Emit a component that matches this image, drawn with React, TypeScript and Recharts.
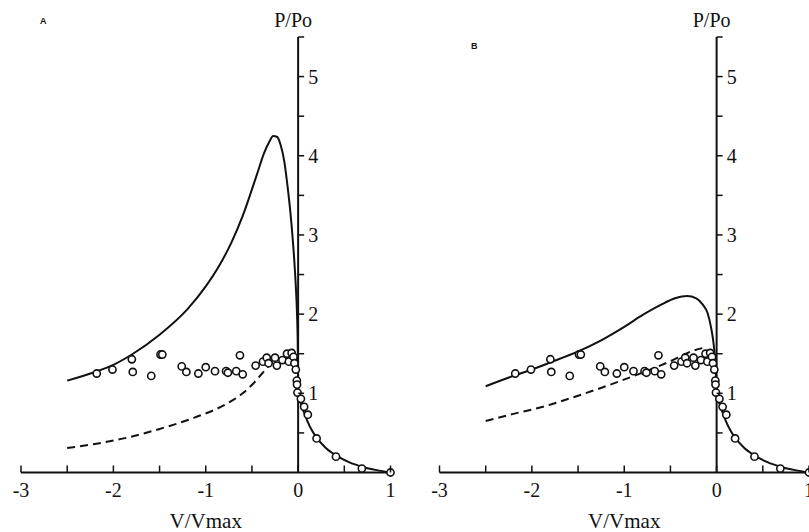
import {
  ComposedChart,
  Line,
  ReferenceDot,
  ReferenceLine,
  Scatter,
  XAxis,
  YAxis,
} from "recharts";

// measured points, same set in both panels
const obsV = [
  -2.18, -2.01, -1.8, -1.79, -1.59, -1.49, -1.47, -1.26, -1.21, -1.08, -1.0,
  -0.9, -0.78, -0.76, -0.67, -0.63, -0.6, -0.46, -0.38, -0.34, -0.32, -0.25,
  -0.23, -0.17, -0.12, -0.1, -0.07, -0.05, -0.04, -0.025, -0.014, -0.012,
  -0.007, 0.03, 0.065, 0.105, 0.2, 0.41, 0.69, 1.0,
];
const obsP = [
  1.25, 1.3, 1.43, 1.27, 1.22, 1.49, 1.49, 1.34, 1.27, 1.25, 1.33, 1.28, 1.28,
  1.26, 1.28, 1.48, 1.24, 1.35, 1.4, 1.45, 1.38, 1.45, 1.35, 1.42, 1.5, 1.4,
  1.51, 1.46, 1.38, 1.3, 1.16, 1.11, 1.01, 0.93, 0.83, 0.73, 0.43, 0.2, 0.05,
  0.0,
];

// shortening branch (V > 0), shared by both fits
const shortV = [0.03, 0.06, 0.1, 0.15, 0.2, 0.3, 0.42, 0.55, 0.7, 0.85, 1.0];
const shortP = [0.87, 0.77, 0.65, 0.53, 0.44, 0.31, 0.21, 0.13, 0.07, 0.03, 0];

// panel A, lengthening branch
const fitAV = [
  -2.5, -2.2, -2.0, -1.8, -1.5, -1.2, -1.0, -0.85, -0.72, -0.6, -0.51, -0.43,
  -0.37, -0.31, -0.27, -0.23, -0.19, -0.15, -0.115, -0.085, -0.06, -0.04,
  -0.025, -0.012, -0.004, 0,
];
const fitAP = [
  1.16, 1.27, 1.36, 1.49, 1.74, 2.06, 2.35, 2.62, 2.91, 3.24, 3.54, 3.82, 4.03,
  4.18, 4.25, 4.24, 4.14, 3.93, 3.62, 3.3, 2.97, 2.65, 2.35, 2.0, 1.6, 1.0,
];
const dashAV = [-2.5, -2.2, -1.85, -1.5, -1.13, -0.77, -0.6, -0.48, -0.39, -0.31, -0.22];
const dashAP = [0.31, 0.36, 0.44, 0.55, 0.69, 0.87, 1.0, 1.13, 1.25, 1.36, 1.45];

// panel B, lengthening branch
const fitBV = [
  -2.5, -2.2, -2.0, -1.8, -1.5, -1.25, -1.0, -0.8, -0.6, -0.45, -0.32, -0.22,
  -0.15, -0.1, -0.06, -0.03, -0.012, 0,
];
const fitBP = [
  1.09, 1.22, 1.3, 1.39, 1.53, 1.67, 1.84, 1.99, 2.12, 2.2, 2.23, 2.2, 2.12,
  2.02, 1.83, 1.6, 1.35, 1.0,
];
const dashBV = [-2.5, -2.2, -1.85, -1.5, -1.15, -0.85, -0.53, -0.25, -0.12];
const dashBP = [0.65, 0.74, 0.84, 0.97, 1.11, 1.24, 1.39, 1.54, 1.58];

const xTicks = [-3, -2.5, -2, -1.5, -1, -0.5, 0, 0.5, 1];
const xLabels = [-3, -2, -1, 0, 1];
const yTicks = [0.5, 1, 1.5, 2, 2.5, 3, 3.5, 4, 4.5, 5, 5.5];
const yLabels = [1, 2, 3, 4, 5];

const INK = "#111";
const SERIF = "'Liberation Serif', 'Times New Roman', serif";
const serifText = { fontFamily: SERIF, fontSize: 20, fill: INK };

const zip = (vs: number[], ps: number[]) => vs.map((v, i) => ({ v, p: ps[i] }));

const observed = zip(obsV, obsP);
const shortening = zip(shortV, shortP);

const X_MIN = -3;
const X_MAX = 1;
const H = 532;
const PLOT_W = 369.5;

const XTick = (props: any) => {
  const { x, y, payload } = props;
  const v = payload.value;
  return (
    <g>
      <line x1={x} y1={y} x2={x} y2={y - 7} stroke={INK} strokeWidth={1.5} />
      {xLabels.includes(v) && (
        <text x={x} y={y + 24} textAnchor="middle" style={serifText}>
          {String(v)}
        </text>
      )}
    </g>
  );
};

const makeYTick = (zeroX: number) => (props: any) => {
  const { y, payload } = props;
  const v = payload.value;
  return (
    <g>
      <line x1={zeroX} y1={y} x2={zeroX + 6} y2={y} stroke={INK} strokeWidth={1.5} />
      {yLabels.includes(v) && (
        <text x={zeroX + 10} y={y + 7} style={serifText}>
          {v}
        </text>
      )}
    </g>
  );
};

const circle = (props: any) => (
  <circle cx={props.cx} cy={props.cy} r={3.6} fill="#fff" stroke={INK} strokeWidth={1.6} />
);

type PanelProps = {
  left: number;
  width: number;
  marginLeft: number;
  letter: string;
  letterX: number;
  letterY: number;
  fit: { v: number; p: number }[];
  dashed: { v: number; p: number }[];
};

const Panel = ({ left, width, marginLeft, letter, letterX, letterY, fit, dashed }: PanelProps) => {
  const zeroX = marginLeft + (PLOT_W * (0 - X_MIN)) / (X_MAX - X_MIN);
  return (
    <div style={{ position: "absolute", left, top: 0, width, height: H, fontFamily: SERIF }}>
      <div
        style={{
          position: "absolute",
          left: letterX,
          top: letterY,
          fontFamily: "'Liberation Sans', Arial, sans-serif",
          fontWeight: 700,
          fontSize: 9,
          color: INK,
        }}
      >
        {letter}
      </div>
      <ComposedChart
        width={width}
        height={H}
        margin={{ top: 37, right: width - marginLeft - PLOT_W, bottom: 29.5, left: marginLeft }}
      >
        <XAxis
          dataKey="v"
          type="number"
          domain={[X_MIN, X_MAX]}
          ticks={xTicks}
          interval={0}
          height={30}
          tickSize={0}
          tickMargin={0}
          tickLine={false}
          axisLine={{ stroke: INK, strokeWidth: 2 }}
          tick={XTick}
          label={{
            value: "V/Vmax",
            position: "bottom",
            offset: 11,
            style: { fontFamily: SERIF, fontSize: 21, fill: INK },
          }}
        />
        <YAxis
          dataKey="p"
          type="number"
          domain={[0, 5.5]}
          ticks={yTicks}
          interval={0}
          mirror
          axisLine={false}
          tickLine={false}
          tick={makeYTick(zeroX)}
        />
        <ReferenceLine
          segment={[
            { x: 0, y: 0 },
            { x: 0, y: 5.5 },
          ]}
          stroke={INK}
          strokeWidth={2}
        />
        <ReferenceDot
          x={0}
          y={5.5}
          r={0}
          fill="none"
          stroke="none"
          label={{
            content: (lp: any) => (
              <text
                x={lp.viewBox.x - 5}
                y={lp.viewBox.y - 10}
                textAnchor="middle"
                style={serifText}
              >
                P/Po
              </text>
            ),
          }}
        />
        <Line
          data={fit}
          dataKey="p"
          type="monotone"
          stroke={INK}
          strokeWidth={2}
          dot={false}
          activeDot={false}
          isAnimationActive={false}
        />
        <Line
          data={dashed}
          dataKey="p"
          type="monotone"
          stroke={INK}
          strokeWidth={2}
          strokeDasharray="8 5"
          dot={false}
          activeDot={false}
          isAnimationActive={false}
        />
        <Scatter data={observed} shape={circle} isAnimationActive={false} />
      </ComposedChart>
    </div>
  );
};

export default function App() {
  const fitA = [...zip(fitAV, fitAP), ...shortening];
  const fitB = [...zip(fitBV, fitBP), ...shortening];
  return (
    <div
      style={{
        position: "absolute",
        left: 0,
        top: 0,
        width: 809,
        height: H,
        overflow: "hidden",
        background: "#fff",
      }}
    >
      <Panel
        left={0}
        width={400}
        marginLeft={21}
        letter="A"
        letterX={40}
        letterY={16}
        fit={fitA}
        dashed={zip(dashAV, dashAP)}
      />
      <Panel
        left={409}
        width={410}
        marginLeft={30.5}
        letter="B"
        letterX={62}
        letterY={41}
        fit={fitB}
        dashed={zip(dashBV, dashBP)}
      />
    </div>
  );
}
